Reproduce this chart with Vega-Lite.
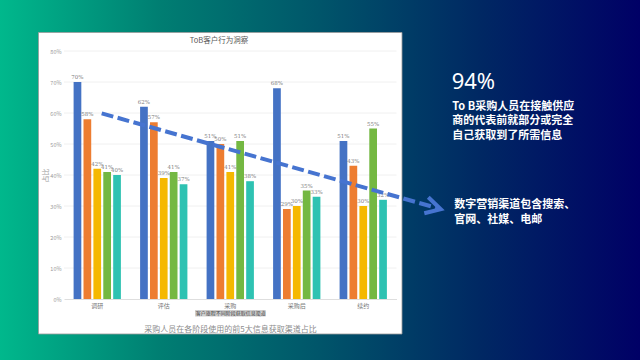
{
  "$schema": "https://vega.github.io/schema/vega-lite/v6.json",
  "width": 640,
  "height": 360,
  "autosize": {"type": "none"},
  "padding": 0,
  "background": "#00556A",
  "view": {"stroke": null},
  "config": {"font": "Noto Sans CJK SC"},
  "datasets": {
    "bars": [
      {"stage": "调研", "channel": "渠道1", "value": 0.70},
      {"stage": "调研", "channel": "渠道2", "value": 0.58},
      {"stage": "调研", "channel": "渠道3", "value": 0.42},
      {"stage": "调研", "channel": "渠道4", "value": 0.41},
      {"stage": "调研", "channel": "渠道5", "value": 0.40},
      {"stage": "评估", "channel": "渠道1", "value": 0.62},
      {"stage": "评估", "channel": "渠道2", "value": 0.57},
      {"stage": "评估", "channel": "渠道3", "value": 0.39},
      {"stage": "评估", "channel": "渠道4", "value": 0.41},
      {"stage": "评估", "channel": "渠道5", "value": 0.37},
      {"stage": "采购", "channel": "渠道1", "value": 0.51},
      {"stage": "采购", "channel": "渠道2", "value": 0.50},
      {"stage": "采购", "channel": "渠道3", "value": 0.41},
      {"stage": "采购", "channel": "渠道4", "value": 0.51},
      {"stage": "采购", "channel": "渠道5", "value": 0.38},
      {"stage": "采购后", "channel": "渠道1", "value": 0.68},
      {"stage": "采购后", "channel": "渠道2", "value": 0.29},
      {"stage": "采购后", "channel": "渠道3", "value": 0.30},
      {"stage": "采购后", "channel": "渠道4", "value": 0.35},
      {"stage": "采购后", "channel": "渠道5", "value": 0.33},
      {"stage": "续约", "channel": "渠道1", "value": 0.51},
      {"stage": "续约", "channel": "渠道2", "value": 0.43},
      {"stage": "续约", "channel": "渠道3", "value": 0.30},
      {"stage": "续约", "channel": "渠道4", "value": 0.55},
      {"stage": "续约", "channel": "渠道5", "value": 0.32}
    ],
    "grid": [
      {"g": 0.1}, {"g": 0.2}, {"g": 0.3}, {"g": 0.4},
      {"g": 0.5}, {"g": 0.6}, {"g": 0.7}, {"g": 0.8}
    ],
    "trend": [
      {"t": 0.0669, "v": 0.599},
      {"t": 5.124, "v": 0.2926}
    ],
    "head": [
      {"i": 1, "t": 4.978, "v": 0.3281},
      {"i": 2, "t": 5.165, "v": 0.2894},
      {"i": 3, "t": 4.918, "v": 0.2765}
    ],
    "one": [{}]
  },
  "resolve": {"scale": {"x": "independent", "y": "independent", "color": "independent"}},
  "layer": [
    {
      "data": {"name": "one"},
      "layer": [
        {
          "mark": {"type": "rect", "fill": {"gradient": "linear", "x1": 0, "y1": 0, "x2": 1, "y2": 0, "stops": [
            {"offset": 0, "color": "#00B88C"},
            {"offset": 0.25, "color": "#007E72"},
            {"offset": 0.5, "color": "#00556A"},
            {"offset": 0.75, "color": "#002863"},
            {"offset": 1, "color": "#000066"}
          ]}},
          "encoding": {
            "x": {"datum": -1.4624, "type": "quantitative", "scale": {"type": "linear", "domain": [-0.5, 4.5], "range": [64, 396.5], "zero": false, "nice": false}, "axis": null},
            "x2": {"datum": 8.1617},
            "y": {"datum": 0.9645, "type": "quantitative", "scale": {"type": "linear", "domain": [0, 0.8], "range": [299, 51], "zero": false, "nice": false}, "axis": null},
            "y2": {"datum": -0.1968}
          }
        },
        {
          "mark": {"type": "rect", "fill": "#ffffff", "stroke": "#9a9a9a", "strokeWidth": 0.8},
          "encoding": {
            "x": {"datum": -0.8835, "type": "quantitative", "scale": {"type": "linear", "domain": [-0.5, 4.5], "range": [64, 396.5], "zero": false, "nice": false}, "axis": null},
            "x2": {"datum": 4.5827},
            "y": {"datum": 0.8597, "type": "quantitative", "scale": {"type": "linear", "domain": [0, 0.8], "range": [299, 51], "zero": false, "nice": false}, "axis": null},
            "y2": {"datum": -0.1129}
          }
        },
        {
          "mark": {"type": "rect", "fill": "#cfcfcf"},
          "encoding": {
            "x": {"datum": 1.47, "type": "quantitative", "scale": {"type": "linear", "domain": [-0.5, 4.5], "range": [64, 396.5], "zero": false, "nice": false}, "axis": null},
            "x2": {"datum": 2.533},
            "y": {"datum": -0.0355, "type": "quantitative", "scale": {"type": "linear", "domain": [0, 0.8], "range": [299, 51], "zero": false, "nice": false}, "axis": null},
            "y2": {"datum": -0.0565}
          }
        },
        {
          "data": {"name": "grid"},
          "mark": {"type": "rule", "color": "#ececec", "strokeWidth": 0.8},
          "encoding": {
            "x": {"datum": -0.5, "type": "quantitative", "scale": {"type": "linear", "domain": [-0.5, 4.5], "range": [64, 396.5], "zero": false, "nice": false}, "axis": null},
            "x2": {"datum": 4.5},
            "y": {"field": "g", "type": "quantitative", "scale": {"type": "linear", "domain": [0, 0.8], "range": [299, 51], "zero": false, "nice": false}, "axis": null}
          }
        }
      ]
    },
    {
      "data": {"name": "bars"},
      "encoding": {
        "x": {
          "field": "stage", "type": "nominal", "sort": ["调研", "评估", "采购", "采购后", "续约"],
          "scale": {"range": [64, 396.5], "paddingInner": 0.256, "paddingOuter": 0.128},
          "axis": {
            "orient": "bottom", "offset": -61, "zindex": 1, "grid": false, "ticks": false,
            "labelAngle": 0, "labelFontSize": 6, "labelColor": "#777777", "labelPadding": 3,
            "domainColor": "#d6d6d6", "domainWidth": 0.8,
            "title": "客户旅程不同阶段获取信息渠道", "titleFontSize": 5, "titleFontWeight": "normal",
            "titleColor": "#404040", "titlePadding": 2
          }
        },
        "xOffset": {
          "field": "channel", "type": "nominal", "sort": ["渠道1", "渠道2", "渠道3", "渠道4", "渠道5"],
          "scale": {"paddingInner": 0.22, "paddingOuter": 0.11}
        },
        "y": {
          "field": "value", "type": "quantitative",
          "scale": {"domain": [0, 0.8], "range": [299, 51], "nice": false},
          "axis": {
            "orient": "left", "offset": -64, "zindex": 1, "minExtent": 0, "grid": false, "ticks": false, "domain": false,
            "values": [0, 0.1, 0.2, 0.3, 0.4, 0.5, 0.6, 0.7, 0.8], "format": ".0%",
            "labelFontSize": 5.5, "labelColor": "#9a9a9a", "labelPadding": 3,
            "title": "占比", "titleFontSize": 7, "titleFontWeight": "normal", "titleColor": "#a0a0a0", "titlePadding": 1
          }
        }
      },
      "layer": [
        {
          "mark": {"type": "bar"},
          "encoding": {
            "color": {
              "field": "channel", "type": "nominal",
              "scale": {"domain": ["渠道1", "渠道2", "渠道3", "渠道4", "渠道5"], "range": ["#4472C4", "#ED7D31", "#F5B800", "#74B842", "#2EC2B2"]},
              "legend": null
            }
          }
        },
        {
          "mark": {"type": "text", "dy": -5, "fontSize": 5.5, "color": "#7f7f7f", "font": "DejaVu Serif"},
          "encoding": {"text": {"field": "value", "type": "quantitative", "format": ".0%"}}
        }
      ]
    },
    {
      "layer": [
        {
          "data": {"name": "trend"},
          "mark": {"type": "line", "color": "#4674D0", "strokeWidth": 4, "strokeDash": [12, 4.5], "strokeCap": "butt"},
          "encoding": {
            "x": {"field": "t", "type": "quantitative", "scale": {"type": "linear", "domain": [-0.5, 4.5], "range": [64, 396.5], "zero": false, "nice": false}, "axis": null},
            "y": {"field": "v", "type": "quantitative", "scale": {"type": "linear", "domain": [0, 0.8], "range": [299, 51], "zero": false, "nice": false}, "axis": null}
          }
        },
        {
          "data": {"name": "head"},
          "mark": {"type": "line", "color": "#4674D0", "strokeWidth": 4, "strokeCap": "butt", "strokeJoin": "miter"},
          "encoding": {
            "x": {"field": "t", "type": "quantitative", "scale": {"type": "linear", "domain": [-0.5, 4.5], "range": [64, 396.5], "zero": false, "nice": false}, "axis": null},
            "y": {"field": "v", "type": "quantitative", "scale": {"type": "linear", "domain": [0, 0.8], "range": [299, 51], "zero": false, "nice": false}, "axis": null},
            "order": {"field": "i", "type": "quantitative"}
          }
        },
        {
          "data": {"name": "one"},
          "mark": {"type": "text", "text": "ToB客户行为洞察", "fontSize": 7.5, "color": "#595959", "align": "center", "baseline": "middle"},
          "encoding": {
            "x": {"datum": 1.831, "type": "quantitative", "scale": {"type": "linear", "domain": [-0.5, 4.5], "range": [64, 396.5], "zero": false, "nice": false}, "axis": null},
            "y": {"datum": 0.8313, "type": "quantitative", "scale": {"type": "linear", "domain": [0, 0.8], "range": [299, 51], "zero": false, "nice": false}, "axis": null}
          }
        },
        {
          "data": {"name": "one"},
          "mark": {"type": "text", "text": "采购人员在各阶段使用的前5大信息获取渠道占比", "fontSize": 8, "color": "#8c8c8c", "align": "center", "baseline": "middle"},
          "encoding": {
            "x": {"datum": 2.004, "type": "quantitative", "scale": {"type": "linear", "domain": [-0.5, 4.5], "range": [64, 396.5], "zero": false, "nice": false}, "axis": null},
            "y": {"datum": -0.1016, "type": "quantitative", "scale": {"type": "linear", "domain": [0, 0.8], "range": [299, 51], "zero": false, "nice": false}, "axis": null}
          }
        },
        {
          "data": {"name": "one"},
          "mark": {"type": "text", "text": "94%", "fontSize": 22, "color": "#ffffff", "align": "left", "baseline": "middle", "font": "Noto Sans"},
          "encoding": {
            "x": {"datum": 5.33, "type": "quantitative", "scale": {"type": "linear", "domain": [-0.5, 4.5], "range": [64, 396.5], "zero": false, "nice": false}, "axis": null},
            "y": {"datum": 0.70, "type": "quantitative", "scale": {"type": "linear", "domain": [0, 0.8], "range": [299, 51], "zero": false, "nice": false}, "axis": null}
          }
        },
        {
          "data": {"name": "one"},
          "mark": {"type": "text", "text": ["To B采购人员在接触供应", "商的代表前就部分或完全", "自己获取到了所需信息"], "fontSize": 11, "fontWeight": "bold", "lineHeight": 14.5, "color": "#ffffff", "align": "left", "baseline": "top"},
          "encoding": {
            "x": {"datum": 5.339, "type": "quantitative", "scale": {"type": "linear", "domain": [-0.5, 4.5], "range": [64, 396.5], "zero": false, "nice": false}, "axis": null},
            "y": {"datum": 0.6403, "type": "quantitative", "scale": {"type": "linear", "domain": [0, 0.8], "range": [299, 51], "zero": false, "nice": false}, "axis": null}
          }
        },
        {
          "data": {"name": "one"},
          "mark": {"type": "text", "text": ["数字营销渠道包含搜索、", "官网、社媒、电邮"], "fontSize": 11, "fontWeight": "bold", "lineHeight": 15, "color": "#ffffff", "align": "left", "baseline": "top"},
          "encoding": {
            "x": {"datum": 5.369, "type": "quantitative", "scale": {"type": "linear", "domain": [-0.5, 4.5], "range": [64, 396.5], "zero": false, "nice": false}, "axis": null},
            "y": {"datum": 0.3232, "type": "quantitative", "scale": {"type": "linear", "domain": [0, 0.8], "range": [299, 51], "zero": false, "nice": false}, "axis": null}
          }
        }
      ]
    }
  ]
}
